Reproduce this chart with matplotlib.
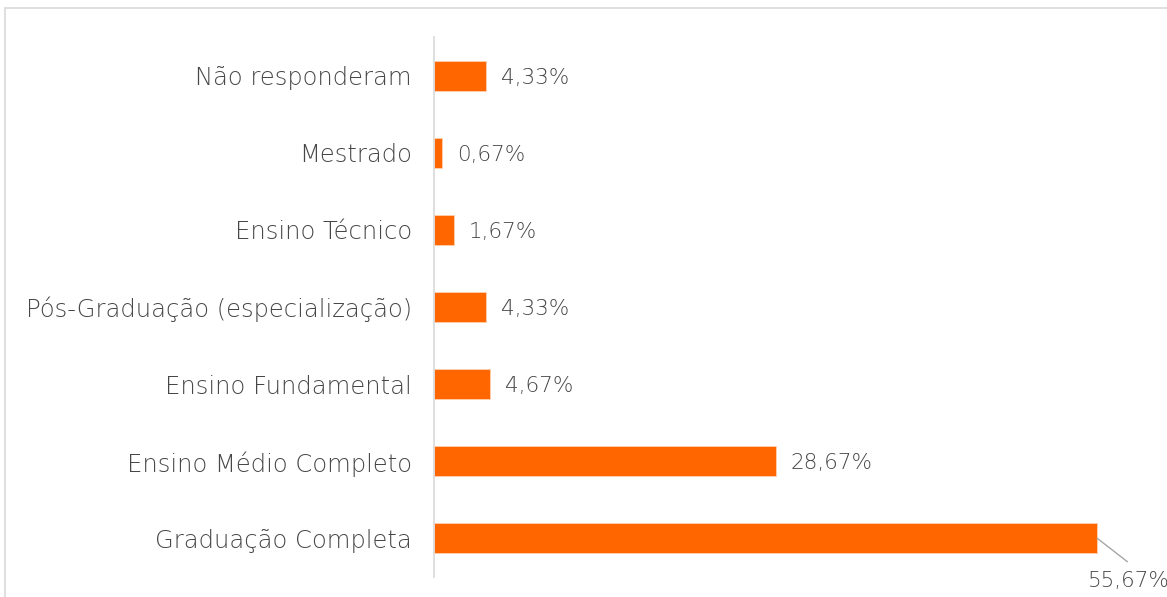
import matplotlib.pyplot as plt
from matplotlib.patches import Rectangle

categories = [
    "Graduação Completa",
    "Ensino Médio Completo",
    "Ensino Fundamental",
    "Pós-Graduação (especialização)",
    "Ensino Técnico",
    "Mestrado",
    "Não responderam",
]
values = [55.67, 28.67, 4.67, 4.33, 1.67, 0.67, 4.33]

W, H = 1167, 597
bar_color = "#FF6600"
text_color = "#474747"
plt.rcParams["font.family"] = ["DejaVu Sans"]
cat_size = 17.5
val_size = 15.5

fig = plt.figure(figsize=(W / 100, H / 100), dpi=100)

# outer chart frame, cut off at right and bottom
fig.patches.append(Rectangle((5 / W, -0.1), 1.2, 1 - 8 / H + 0.1,
                             transform=fig.transFigure, fill=False,
                             edgecolor="#D9D9D9", linewidth=1.2))

ax = fig.add_axes([434 / W, 20 / H, 715 / W, 540 / H])
ypos = list(range(len(categories)))
ax.barh(ypos, values, height=0.39, color=bar_color,
        edgecolor="#FFD0B0", linewidth=0.6)
ax.set_xlim(0, 60)
ax.set_ylim(-0.5, len(categories) - 0.5)

ax.set_yticks(ypos)
ax.set_yticklabels(categories, fontsize=cat_size, color=text_color,
                   fontweight="light", va="center_baseline")
ax.tick_params(axis="y", length=0, pad=16)
ax.set_xticks([])
for side in ["top", "right", "bottom"]:
    ax.spines[side].set_visible(False)
ax.spines["left"].set_color("#D9D9D9")
ax.spines["left"].set_linewidth(1.2)

for y, v in zip(ypos, values):
    label = f"{v:.2f}%".replace(".", ",")
    if v > 50:
        # label pushed outside the plot, tied back with a leader line
        ax.plot([v, v + 2.5], [y, y - 0.3], color="#A6A6A6",
                linewidth=1, clip_on=False)
        ax.text(v + 2.6, y - 0.52, label, fontsize=val_size,
                color=text_color, fontweight="light",
                ha="center", va="center_baseline", clip_on=False)
    else:
        ax.annotate(label, xy=(v, y), xytext=(15, 0),
                    textcoords="offset pixels", fontweight="light",
                    fontsize=val_size, color=text_color, ha="left",
                    va="center_baseline")

fig.savefig("out.png", dpi=100)
